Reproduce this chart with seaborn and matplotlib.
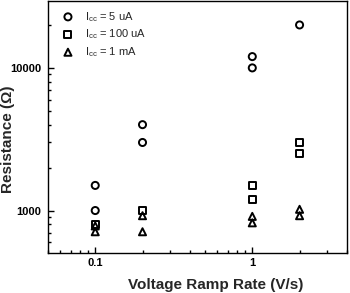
import matplotlib
matplotlib.use("Agg")
import matplotlib.pyplot as plt
import matplotlib.ticker as mticker
import seaborn as sns
import pandas as pd

# Resistance vs ramp rate for three compliance currents
rate_5ua = [0.1, 0.1, 0.2, 0.2, 1, 1, 2]
res_5ua = [1500, 1000, 4000, 3000, 12000, 10000, 20000]

rate_100ua = [0.1, 0.2, 1, 1, 2, 2]
res_100ua = [800, 1000, 1500, 1200, 3000, 2500]

rate_1ma = [0.1, 0.1, 0.2, 0.2, 1, 1, 2, 2]
res_1ma = [780, 710, 920, 710, 910, 820, 1020, 920]

labels = [r"$\mathregular{I_{cc}}$ = 5 uA", r"$\mathregular{I_{cc}}$ = 100 uA",
          r"$\mathregular{I_{cc}}$ = 1 mA"]
markers = ["o", "s", "^"]

sns.set_theme(style="ticks")
plt.rcParams["font.family"] = ["Liberation Sans", "DejaVu Sans"]
plt.rcParams["mathtext.fontset"] = "custom"
plt.rcParams["mathtext.rm"] = "Liberation Sans"

fig = plt.figure(figsize=(3.5, 2.93), dpi=100)
ax = fig.add_axes([0.137, 0.137, 0.854, 0.86])

series = [(rate_5ua, res_5ua), (rate_100ua, res_100ua), (rate_1ma, res_1ma)]
for (xs, ys), lab, mk in zip(series, labels, markers):
    df = pd.DataFrame({"rate": xs, "res": ys})
    sns.scatterplot(data=df, x="rate", y="res", ax=ax, marker=mk, s=26,
                    facecolor="none", edgecolor="black", linewidth=1.4, label=lab)

ax.set_xscale("log")
ax.set_yscale("log")
ax.set_xlim(0.05, 4)
ax.set_ylim(505, 29500)

ax.xaxis.set_major_locator(mticker.FixedLocator([0.1, 1]))
ax.xaxis.set_major_formatter(mticker.FixedFormatter(["0.1", "1"]))
ax.yaxis.set_major_locator(mticker.FixedLocator([1000, 10000]))
ax.yaxis.set_major_formatter(mticker.FixedFormatter(["1000", "10000"]))
ax.xaxis.set_minor_formatter(mticker.NullFormatter())
ax.yaxis.set_minor_formatter(mticker.NullFormatter())

ax.tick_params(which="both", direction="in", width=1, colors="black")
ax.tick_params(which="major", length=4, labelsize=8)
ax.tick_params(which="minor", length=2)
ax.tick_params(axis="y", which="major", pad=5)
for t in ax.get_xticklabels() + ax.get_yticklabels():
    t.set_fontweight("bold")
for sp in ax.spines.values():
    sp.set_linewidth(1.0)
    sp.set_color("black")

ax.set_xlabel("Voltage Ramp Rate (V/s)", fontsize=11, fontweight="bold")
ax.set_ylabel("Resistance (Ω)", fontsize=11, fontweight="bold")
ax.xaxis.label.set_va("baseline")
ax.xaxis.set_label_coords(0.562, -0.143)
ax.yaxis.set_label_coords(-0.11, 0.452)

ax.legend(loc="upper left", frameon=False, fontsize=8, handletextpad=0.5,
          labelspacing=0.35, borderaxespad=0.4)

fig.savefig("out.png", dpi=100)
